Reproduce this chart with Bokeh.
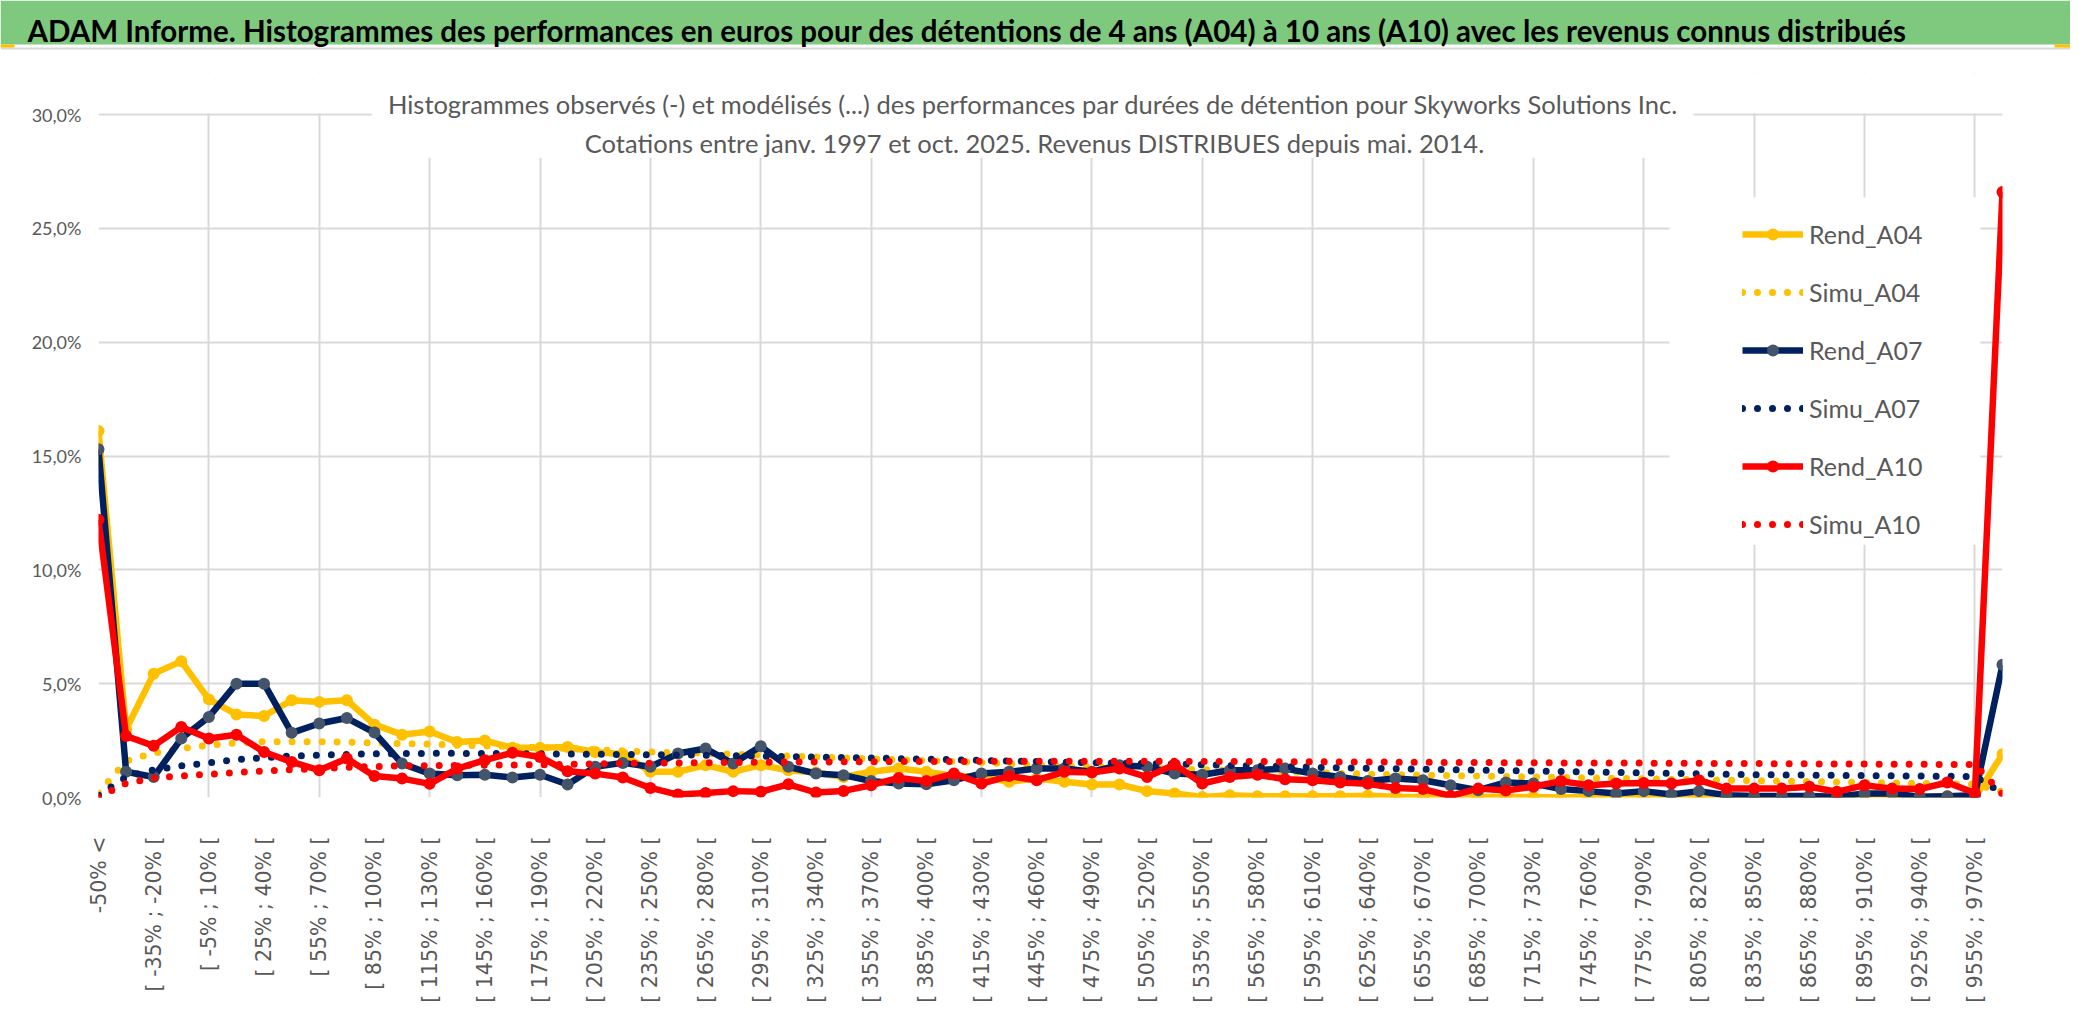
import math
from bokeh.plotting import figure
from bokeh.models import (Range1d, FixedTicker, Legend, LegendItem, Label,
                          BoxAnnotation, ColumnDataSource)
from bokeh.layouts import column
from bokeh.embed import file_html
from bokeh.resources import INLINE
from bokeh.core.properties import value

# ---------------- data ----------------
categories = (["-50% <"]
              + ["[ %d%% ; %d%% [" % (a, a + 15) for a in range(-50, 970, 15)]
              + ["970% >"])

rend_a04 = [16.1, 3.0, 5.44, 5.98, 4.31, 3.65, 3.58, 4.27, 4.2, 4.27,
            3.2, 2.76, 2.9, 2.44, 2.5, 2.18, 2.18, 2.22, 2.0, 1.9,
            1.13, 1.13, 1.42, 1.13, 1.42, 1.2, 1.1, 0.9, 1.13, 1.27,
            1.13, 0.95, 0.9, 0.69, 0.83, 0.69, 0.57, 0.57, 0.28, 0.18,
            0.02, 0.1, 0.06, 0.06, 0.06, 0.06, 0.08, 0.03, 0.02, 0.02,
            0.02, 0.02, 0.02, 0.0, 0.02, 0.0, 0.02, 0.1, 0.0, 0.03,
            0.0, 0.02, 0.02, 0.02, 0.03, 0.02, 0.02, 0.05, 0.0, 1.9]
simu_a04 = [0.2, 1.6, 1.95, 2.15, 2.3, 2.4, 2.45, 2.45, 2.45, 2.43,
            2.4, 2.37, 2.35, 2.3, 2.27, 2.24, 2.2, 2.15, 2.1, 2.05,
            2.0, 1.97, 1.94, 1.9, 1.86, 1.82, 1.78, 1.74, 1.7, 1.66,
            1.62, 1.58, 1.54, 1.48, 1.42, 1.37, 1.34, 1.31, 1.28, 1.25,
            1.22, 1.19, 1.16, 1.13, 1.1, 1.06, 1.03, 1.0, 0.98, 0.96,
            0.94, 0.92, 0.9, 0.88, 0.86, 0.84, 0.82, 0.8, 0.78, 0.76,
            0.74, 0.72, 0.7, 0.68, 0.66, 0.64, 0.62, 0.6, 0.58, 0.25]
rend_a07 = [15.3, 1.13, 0.9, 2.59, 3.54, 5.0, 5.0, 2.84, 3.25, 3.49,
            2.85, 1.49, 1.05, 0.98, 1.0, 0.88, 1.0, 0.57, 1.35, 1.52,
            1.35, 1.93, 2.15, 1.49, 2.25, 1.35, 1.05, 0.98, 0.72, 0.61,
            0.58, 0.76, 1.05, 1.13, 1.27, 1.27, 1.13, 1.42, 1.35, 1.05,
            1.0, 1.2, 1.2, 1.27, 1.05, 0.9, 0.72, 0.83, 0.76, 0.54,
            0.32, 0.66, 0.61, 0.37, 0.28, 0.18, 0.28, 0.13, 0.28, 0.1,
            0.07, 0.07, 0.07, 0.03, 0.18, 0.18, 0.03, 0.06, 0.1, 5.83]
simu_a07 = [0.1, 0.9, 1.21, 1.39, 1.52, 1.66, 1.75, 1.82, 1.86, 1.89,
            1.92, 1.93, 1.94, 1.94, 1.93, 1.93, 1.92, 1.91, 1.9, 1.89,
            1.88, 1.87, 1.86, 1.84, 1.82, 1.8, 1.78, 1.76, 1.74, 1.71,
            1.68, 1.66, 1.63, 1.6, 1.58, 1.55, 1.53, 1.51, 1.49, 1.47,
            1.44, 1.41, 1.39, 1.36, 1.33, 1.3, 1.28, 1.26, 1.24, 1.22,
            1.2, 1.18, 1.16, 1.14, 1.12, 1.1, 1.08, 1.06, 1.04, 1.02,
            1.0, 0.99, 0.98, 0.97, 0.96, 0.95, 0.94, 0.93, 0.92, 0.2]
rend_a10 = [12.2, 2.7, 2.27, 3.1, 2.59, 2.76, 2.0, 1.56, 1.2, 1.71,
            0.94, 0.83, 0.6, 1.27, 1.64, 1.97, 1.78, 1.15, 1.05, 0.88,
            0.42, 0.13, 0.2, 0.28, 0.25, 0.58, 0.22, 0.29, 0.54, 0.86,
            0.72, 1.05, 0.61, 0.94, 0.76, 1.13, 1.1, 1.27, 0.9, 1.45,
            0.61, 0.9, 1.0, 0.8, 0.76, 0.66, 0.6, 0.42, 0.37, 0.07,
            0.39, 0.31, 0.47, 0.72, 0.54, 0.61, 0.64, 0.61, 0.76, 0.39,
            0.39, 0.39, 0.47, 0.25, 0.54, 0.39, 0.37, 0.66, 0.2, 26.6]
simu_a10 = [0.0, 0.63, 0.85, 0.95, 1.02, 1.1, 1.16, 1.22, 1.27, 1.32,
            1.36, 1.39, 1.4, 1.41, 1.42, 1.43, 1.44, 1.46, 1.48, 1.5,
            1.51, 1.52, 1.53, 1.54, 1.55, 1.56, 1.56, 1.57, 1.57, 1.58,
            1.58, 1.58, 1.59, 1.59, 1.59, 1.59, 1.59, 1.59, 1.59, 1.59,
            1.58, 1.58, 1.58, 1.57, 1.57, 1.56, 1.56, 1.55, 1.55, 1.54,
            1.54, 1.53, 1.53, 1.52, 1.52, 1.51, 1.51, 1.5, 1.5, 1.49,
            1.49, 1.48, 1.48, 1.47, 1.47, 1.46, 1.46, 1.45, 1.45, 0.15]

y_ticks = [0, 5, 10, 15, 20, 25, 30]
y_tick_labels = ["0,0%", "5,0%", "10,0%", "15,0%", "20,0%", "25,0%", "30,0%"]

title_text = ("ADAM Informe. Histogrammes des performances en euros pour des "
              "détentions de 4 ans (A04) à 10 ans (A10) avec les revenus connus distribués")
sub1 = ("Histogrammes observés (-) et modélisés (...) des performances par durées "
        "de détention pour Skyworks Solutions Inc.")
sub2 = "Cotations entre janv. 1997 et oct. 2025. Revenus DISTRIBUES depuis mai. 2014."

# ---------------- styles ----------------
W = 2070
FONT = "Lato"
GOLD = "#FFC000"
NAVY = "#002060"
NAVY_M = "#44546A"
RED = "#FF0000"
GRAY_T = "#595959"
GRID = "#D9D9D9"
GREEN = "#7FC97F"

def strip(height, y0, y1):
    f = figure(width=W, height=height, x_range=Range1d(8, 2078), y_range=Range1d(y1, y0),
               output_backend="svg", toolbar_location=None,
               x_axis_location=None, y_axis_location=None,
               min_border_left=0, min_border_right=0, min_border_top=0, min_border_bottom=0)
    f.frame_align = False
    f.grid.visible = False
    f.outline_line_color = None
    f.background_fill_color = "white"
    f.border_fill_color = "white"
    return f

# ---------------- title strip (page coords) ----------------
t = strip(50, 8, 58)
t.quad(left=[8], right=[2078], top=[8], bottom=[52], fill_color=GREEN, line_color=None)
t.quad(left=[8], right=[2078], top=[55], bottom=[57], fill_color=GRID, line_color=None)
t.quad(left=[8, 2062], right=[22, 2078], top=[52, 52], bottom=[55, 55],
       fill_color=GOLD, line_color=None)
t.text(x=[35], y=[38], text=[title_text], text_font=value(FONT),
       text_font_style="bold", text_font_size="29.5px", text_align="left",
       text_baseline="alphabetic", text_color="black")

# ---------------- main chart ----------------
idx = list(range(len(categories)))
src = ColumnDataSource(dict(x=idx, rend_a04=rend_a04, simu_a04=simu_a04,
                            rend_a07=rend_a07, simu_a07=simu_a07,
                            rend_a10=rend_a10, simu_a10=simu_a10))

p = figure(width=W, height=962, x_range=Range1d(0, 69), y_range=Range1d(0, 31.845),
           output_backend="svg", toolbar_location=None,
           min_border_left=98, min_border_right=68, min_border_top=22, min_border_bottom=215)
p.frame_align = False
p.outline_line_color = None
p.background_fill_color = "white"
p.border_fill_color = "white"

p.xgrid.ticker = FixedTicker(ticks=list(range(0, 69, 4)))
p.ygrid.ticker = FixedTicker(ticks=y_ticks)
p.grid.grid_line_color = GRID
p.grid.grid_line_width = 2

p.xaxis.ticker = FixedTicker(ticks=list(range(0, 69, 2)))
p.xaxis.major_label_overrides = {i: categories[i] for i in range(0, 69, 2)}
p.xaxis.major_label_orientation = math.pi / 2
p.xaxis.major_label_text_font = "DejaVu Sans"
p.xaxis.major_label_text_font_size = "20.5px"
p.xaxis.major_label_standoff = 39

p.yaxis.ticker = FixedTicker(ticks=y_ticks)
p.yaxis.major_label_overrides = {v: lab for v, lab in zip(y_ticks, y_tick_labels)}
p.yaxis.major_label_text_font = FONT
p.yaxis.major_label_text_font_size = "18px"
p.yaxis.major_label_standoff = 17

for ax in (p.xaxis, p.yaxis):
    ax.axis_line_color = None
    ax.major_tick_line_color = None
    ax.minor_tick_line_color = None
    ax.major_tick_out = 0
    ax.major_tick_in = 0
    ax.major_label_text_color = GRAY_T

def rend(col, color, mcolor):
    l = p.line("x", col, source=src, line_color=color, line_width=6.5, line_join="round")
    m = p.scatter("x", col, source=src, size=12, fill_color=mcolor, line_color=None)
    return [l, m]

def simu(col, color):
    l = p.line("x", col, source=src, line_color=color, line_width=7,
               line_dash="0 15", line_cap="round")
    return [l]

r_a04 = rend("rend_a04", GOLD, GOLD)
s_a04 = simu("simu_a04", GOLD)
r_a07 = rend("rend_a07", NAVY, NAVY_M)
s_a07 = simu("simu_a07", NAVY)
r_a10 = rend("rend_a10", RED, RED)
s_a10 = simu("simu_a10", RED)

# hide gridlines above 30 %, behind the chart title and behind the legend
p.add_layout(BoxAnnotation(bottom=30.06, fill_color="white", fill_alpha=1, line_color=None))
p.add_layout(BoxAnnotation(left=9.9, right=57.8, bottom=28.1, fill_color="white",
                           fill_alpha=1, line_color=None))
p.add_layout(BoxAnnotation(left=56.93, right=68.2, bottom=11.1, top=26.35,
                           fill_color="white", fill_alpha=1, line_color=None))

p.add_layout(Label(x=33.87, y=30.48, text=sub1, text_align="center",
                   text_baseline="alphabetic", text_font=FONT,
                   text_font_size="25.5px", text_color=GRAY_T))
p.add_layout(Label(x=33.92, y=28.73, text=sub2, text_align="center",
                   text_baseline="alphabetic", text_font=FONT,
                   text_font_size="25.5px", text_color=GRAY_T))

legend = Legend(items=[
    LegendItem(label="Rend_A04", renderers=r_a04),
    LegendItem(label="Simu_A04", renderers=s_a04),
    LegendItem(label="Rend_A07", renderers=r_a07),
    LegendItem(label="Simu_A07", renderers=s_a07),
    LegendItem(label="Rend_A10", renderers=r_a10),
    LegendItem(label="Simu_A10", renderers=s_a10),
], location=(1644, 258))
legend.label_text_font = FONT
legend.label_text_font_size = "25px"
legend.label_text_color = GRAY_T
legend.glyph_width = 61
legend.glyph_height = 30
legend.label_height = 30
legend.spacing = 28
legend.padding = 14
legend.margin = 0
legend.label_standoff = 6
legend.background_fill_color = "white"
legend.background_fill_alpha = 1
legend.border_line_color = None
p.add_layout(legend)

# ---------------- bottom strip ----------------
b = strip(5, 1020, 1025)
b.quad(left=[8], right=[2078], top=[1021.5], bottom=[1023.5], fill_color=GRID, line_color=None)
b.quad(left=[8], right=[22], top=[1024], bottom=[1025], fill_color=GOLD, line_color=None)

layout = column(t, p, b, spacing=0)
open("out.html", "w").write(file_html(layout, INLINE))
